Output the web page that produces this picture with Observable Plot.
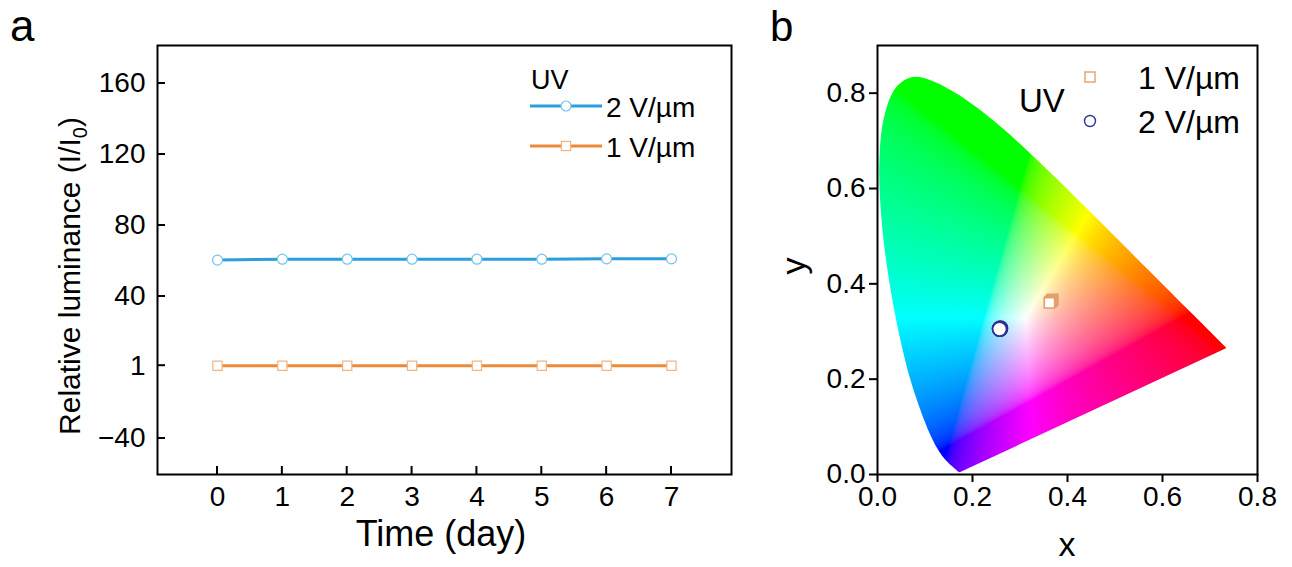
<!DOCTYPE html>
<html>
<head>
<meta charset="utf-8">
<script src="https://cdn.jsdelivr.net/npm/d3@7"></script>
<script src="https://cdn.jsdelivr.net/npm/@observablehq/plot@0.6"></script>
<style>
  html, body { margin: 0; padding: 0; background: #fff; }
  #wrap { position: relative; width: 1292px; height: 567px; overflow: hidden; font-family: "Liberation Sans", Arial, sans-serif; }
  #pa, #pb { position: absolute; top: 0; }
  #pa { left: 0; }
  #pb { left: 760px; }
</style>
</head>
<body>
<div id="wrap"><div id="pa"></div><div id="pb"></div></div>
<script>
// ---------- Panel a data ----------
const days = [0, 1, 2, 3, 4, 5, 6, 7];
const lum2 = [60.5, 61, 61, 61, 61, 61, 61.2, 61.2];   // 2 V/µm
const lum1 = [1, 1, 1, 1, 1, 1, 1, 1];                 // 1 V/µm
const xTicksA = [0, 1, 2, 3, 4, 5, 6, 7];
const yTicksA = [-40, 1, 40, 80, 120, 160];
const seriesA = ["2 V/µm", "1 V/µm"];

// ---------- Panel b data ----------
const cie1x = [0.369, 0.368, 0.367, 0.366, 0.365, 0.364, 0.363, 0.362];  // 1 V/µm
const cie1y = [0.367, 0.366, 0.365, 0.364, 0.363, 0.362, 0.361, 0.360];
const cie2x = [0.258, 0.258, 0.257, 0.258, 0.259, 0.258, 0.258, 0.257];  // 2 V/µm
const cie2y = [0.306, 0.305, 0.306, 0.306, 0.307, 0.306, 0.305, 0.305];
const xTicksB = [0, 0.2, 0.4, 0.6, 0.8];
const yTicksB = [0, 0.2, 0.4, 0.6, 0.8];
// CIE 1931 spectral locus (380–700 nm)
const locusX = [0.1741,0.1740,0.1738,0.1736,0.1733,0.1730,0.1726,0.1721,0.1714,0.1703,0.1689,0.1669,0.1644,0.1611,0.1566,0.1510,0.1440,0.1355,0.1241,0.1096,0.0913,0.0687,0.0454,0.0235,0.0082,0.0039,0.0139,0.0389,0.0743,0.1142,0.1547,0.1929,0.2296,0.2658,0.3016,0.3373,0.3731,0.4087,0.4441,0.4788,0.5125,0.5448,0.5752,0.6029,0.6270,0.6482,0.6658,0.6801,0.6915,0.7006,0.7079,0.7140,0.7190,0.7230,0.7260,0.7283,0.7300,0.7311,0.7320,0.7334,0.7347];
const locusY = [0.0050,0.0050,0.0049,0.0049,0.0048,0.0048,0.0048,0.0048,0.0051,0.0058,0.0069,0.0086,0.0109,0.0138,0.0177,0.0227,0.0297,0.0399,0.0578,0.0868,0.1327,0.2007,0.2950,0.4127,0.5384,0.6548,0.7502,0.8120,0.8338,0.8262,0.8059,0.7816,0.7543,0.7243,0.6923,0.6589,0.6245,0.5896,0.5547,0.5202,0.4866,0.4544,0.4242,0.3965,0.3725,0.3514,0.3340,0.3197,0.3083,0.2993,0.2920,0.2859,0.2809,0.2770,0.2740,0.2717,0.2700,0.2689,0.2680,0.2666,0.2653];

const FONT = '"Liberation Sans", Arial, sans-serif';
const BLUE = "#2a9fdc", BLUE_M = "#74c3ea";
const ORANGE = "#ec8a3a", ORANGE_M = "#f2b582";
const NAVY = "#2e3192", ORANGE_B = "#e4a06a";

function txt(sel, x, y, size, s, anchor = "start", baseline = null) {
  const t = sel.append("text").attr("x", x).attr("y", y).attr("text-anchor", anchor)
    .attr("font-family", FONT).attr("fill", "#000").style("font-size", size + "px").text(s);
  if (baseline) t.attr("dominant-baseline", baseline);
  return t;
}

// ================= Panel a =================
const rowsA2 = days.map((d, i) => ({day: d, v: lum2[i]}));
const rowsA1 = days.map((d, i) => ({day: d, v: lum1[i]}));

const plotA = Plot.plot({
  width: 760, height: 567,
  marginLeft: 157, marginRight: 29, marginTop: 45, marginBottom: 93,
  style: {fontFamily: FONT, color: "#000", background: "#fff", overflow: "visible"},
  x: {domain: [-0.925, 7.925]},
  y: {domain: [-60.3, 181.4]},
  marks: [
    Plot.axisX(xTicksA, {tickSize: 0, tickPadding: 12, fontSize: 28, label: null, tickFormat: d => String(d)}),
    Plot.axisY(yTicksA, {tickSize: 0, tickPadding: 12, fontSize: 28, label: null}),
    Plot.line(rowsA2, {x: "day", y: "v", stroke: BLUE, strokeWidth: 3}),
    Plot.line(rowsA1, {x: "day", y: "v", stroke: ORANGE, strokeWidth: 3}),
    Plot.dot(rowsA2, {x: "day", y: "v", r: 5, symbol: "circle", fill: "#fff", stroke: BLUE_M, strokeWidth: 1.2}),
    Plot.dot(rowsA1, {x: "day", y: "v", r: 5.2, symbol: "square", fill: "#fff", stroke: ORANGE_M, strokeWidth: 1.2}),
    Plot.frame({stroke: "#000", strokeWidth: 2})
  ]
});
document.getElementById("pa").appendChild(plotA);

{
  const svg = d3.select(plotA);
  const sx = plotA.scale("x"), sy = plotA.scale("y");
  const bottom = 567 - 93, left = 157;
  const g = svg.append("g").attr("stroke", "#000").attr("stroke-width", 2);
  xTicksA.forEach(v => {
    const px = sx.apply(v);
    g.append("line").attr("x1", px).attr("x2", px).attr("y1", bottom).attr("y2", bottom - 8);
  });
  yTicksA.forEach(v => {
    const py = sy.apply(v);
    g.append("line").attr("x1", left).attr("x2", left + 8).attr("y1", py).attr("y2", py);
  });
  // axis titles
  txt(svg, 441, 546, 36, "Time (day)", "middle");
  const t = svg.append("text").attr("transform", "translate(80,276) rotate(-90)")
    .attr("text-anchor", "middle").attr("font-family", FONT).attr("fill", "#000").style("font-size", "30px");
  t.append("tspan").text("Relative luminance (I/I");
  t.append("tspan").attr("dy", 7).style("font-size", "20px").text("0");
  t.append("tspan").attr("dy", -7).text(")");
  // panel letter
  txt(svg, 10, 41, 44, "a");
  // legend
  txt(svg, 531, 80, 27, "UV", "start", "central");
  const items = [
    {label: seriesA[0], y: 106, line: BLUE, mk: BLUE_M, sym: "circle"},
    {label: seriesA[1], y: 146, line: ORANGE, mk: ORANGE_M, sym: "square"}
  ];
  items.forEach(it => {
    svg.append("line").attr("x1", 530).attr("x2", 602).attr("y1", it.y).attr("y2", it.y).attr("stroke", it.line).attr("stroke-width", 3);
    if (it.sym === "circle") svg.append("circle").attr("cx", 566).attr("cy", it.y).attr("r", 5).attr("fill", "#fff").attr("stroke", it.mk).attr("stroke-width", 1.2);
    else svg.append("rect").attr("x", 566 - 4.6).attr("y", it.y - 4.6).attr("width", 9.2).attr("height", 9.2).attr("fill", "#fff").attr("stroke", it.mk).attr("stroke-width", 1.2);
    txt(svg, 606, it.y + 1, 28, it.label, "start", "central");
  });
}

// ================= Panel b =================
const locus = locusX.map((x, i) => [x, locusY[i]]);
const gam = v => v <= 0.0031308 ? 12.92 * v : 1.055 * Math.pow(v, 1 / 2.4) - 0.055;
function cieColor(x, y) {
  if (y <= 0.001) return "#ffffff";
  const X = x / y, Y = 1, Z = (1 - x - y) / y;
  let r = 3.2406 * X - 1.5372 * Y - 0.4986 * Z;
  let g = -0.9689 * X + 1.8758 * Y + 0.0415 * Z;
  let b = 0.0557 * X - 0.2040 * Y + 1.0570 * Z;
  r = Math.max(r, 0); g = Math.max(g, 0); b = Math.max(b, 0);
  const m = Math.max(r, g, b) || 1;
  return `rgb(${Math.round(255 * gam(r / m))},${Math.round(255 * gam(g / m))},${Math.round(255 * gam(b / m))})`;
}
const rowsB1 = cie1x.map((x, i) => ({x, y: cie1y[i]}));
const rowsB2 = cie2x.map((x, i) => ({x, y: cie2y[i]}));

const plotB = Plot.plot({
  width: 532, height: 567,
  marginLeft: 117, marginRight: 35, marginTop: 45, marginBottom: 93,
  style: {fontFamily: FONT, color: "#000", background: "#fff", overflow: "visible"},
  x: {domain: [0, 0.8]},
  y: {domain: [0, 0.9]},
  color: {type: "identity"},
  marks: [
    Plot.raster({x1: 0, x2: 0.8, y1: 0, y2: 0.9, fill: cieColor, pixelSize: 1}),
    Plot.axisX(xTicksB, {tickSize: 8, tickPadding: 4, fontSize: 28, label: null, strokeWidth: 2, tickFormat: d3.format(".1f")}),
    Plot.axisY(yTicksB, {tickSize: 8, tickPadding: 4, fontSize: 28, label: null, strokeWidth: 2, tickFormat: d3.format(".1f")}),
    Plot.dot(rowsB1, {x: "x", y: "y", r: 5.8, symbol: "square", fill: "#fff", stroke: ORANGE_B, strokeWidth: 1.6}),
    Plot.dot(rowsB2, {x: "x", y: "y", r: 7, symbol: "circle", fill: "#fff", stroke: NAVY, strokeWidth: 1.8}),
    Plot.frame({stroke: "#000", strokeWidth: 2})
  ]
});
document.getElementById("pb").appendChild(plotB);

{
  const svg = d3.select(plotB);
  const sx = plotB.scale("x"), sy = plotB.scale("y");
  // clip the colour raster to the smooth spectral locus
  const pathD = d3.line().x(d => sx.apply(d[0])).y(d => sy.apply(d[1]))
    .curve(d3.curveCatmullRom.alpha(0.5))(locus) + "Z";
  svg.insert("defs", ":first-child").append("clipPath").attr("id", "cie-clip")
    .append("path").attr("d", pathD);
  svg.selectAll('g[aria-label="raster"]').attr("clip-path", "url(#cie-clip)");

  txt(svg, 307, 556, 34, "x", "middle");
  svg.append("text").attr("transform", "translate(45,266) rotate(-90)").attr("text-anchor", "middle")
    .attr("font-family", FONT).attr("fill", "#000").style("font-size", "34px").text("y");
  txt(svg, 10, 41, 42, "b");
  txt(svg, 259, 100, 33, "UV", "start", "central");
  svg.append("rect").attr("x", 330 - 5).attr("y", 77 - 5).attr("width", 10).attr("height", 10).attr("fill", "#fff").attr("stroke", ORANGE_B).attr("stroke-width", 1.4);
  svg.append("circle").attr("cx", 330).attr("cy", 121).attr("r", 5.5).attr("fill", "#fff").attr("stroke", NAVY).attr("stroke-width", 1.4);
  txt(svg, 378, 78, 32, seriesA[1], "start", "central");
  txt(svg, 378, 122, 32, seriesA[0], "start", "central");
}
</script>
</body>
</html>
